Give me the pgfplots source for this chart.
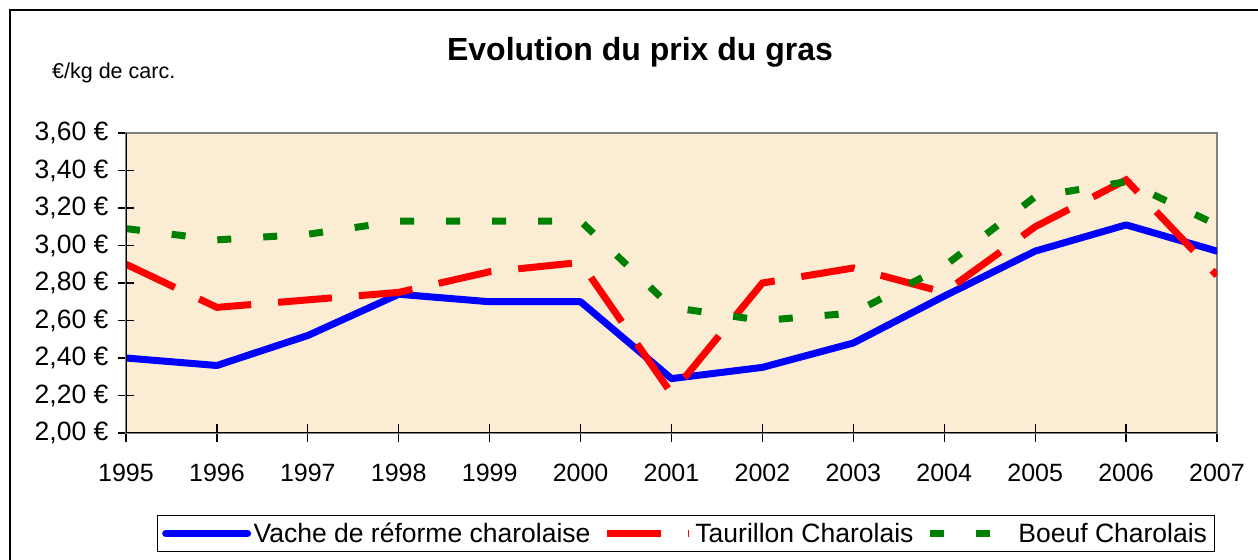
\documentclass[border=0pt]{standalone}
\usepackage{fontspec}
\setmainfont{Liberation Sans}
\usepackage{pgfplots}
\pgfplotsset{compat=1.18}
\definecolor{bgbeige}{RGB}{251,237,212}
\definecolor{axgray}{RGB}{128,128,128}
\definecolor{xlgreen}{RGB}{0,128,0}
\begin{document}
\begin{tikzpicture}
\path[use as bounding box] (0bp,0bp) rectangle (1258bp,560bp);
\draw[line width=1.5bp] (10bp,0bp) -- (10bp,550bp) -- (1258bp,550bp);
\node[font=\fontsize{32bp}{36bp}\selectfont\bfseries] at (640bp,508bp) {Evolution du prix du gras};
\node[font=\fontsize{21.5bp}{24bp}\selectfont, anchor=west, inner sep=0pt] at (52bp,487bp) {€/kg de carc.};
\begin{axis}[
  at={(126bp,127bp)}, anchor=south west, scale only axis,
  width=1091bp, height=300bp,
  xmin=1995, xmax=2007, ymin=2, ymax=3.6,
  xtick={1995,1996,1997,1998,1999,2000,2001,2002,2003,2004,2005,2006,2007},
  xticklabels={1995,1996,1997,1998,1999,2000,2001,2002,2003,2004,2005,2006,2007},
  ytick={2,2.2,2.4,2.6,2.8,3,3.2,3.4,3.6},
  yticklabels={{2,00 €},{2,20 €},{2,40 €},{2,60 €},{2,80 €},{3,00 €},{3,20 €},{3,40 €},{3,60 €}},
  xtick pos=bottom, ytick pos=left,
  tick align=center, major tick length=17bp,
  tick style={black, line width=1.2bp},
  axis line style={axgray, line width=2bp},
  axis background/.style={fill=bgbeige},
  xticklabel style={font=\fontsize{25bp}{30bp}\selectfont, inner sep=0pt, anchor=north, yshift=-22bp},
  yticklabel style={font=\fontsize{26.5bp}{30bp}\selectfont, inner sep=0pt, anchor=east, xshift=-9bp},
  no markers,
  legend columns=3,
  legend style={at={(0.028,-0.273)}, anchor=north west, draw=black, line width=1.2bp,
    inner xsep=5bp, inner ysep=5bp, font=\fontsize{26.5bp}{30bp}\selectfont,
    /tikz/every even column/.append style={column sep=11bp},
    nodes={inner sep=2.5bp}},
  legend image code/.code={\draw[#1] (0bp,0bp) -- (82bp,0bp);},
]
\addplot[blue, line width=7bp, line join=round, line cap=round] coordinates {
(1995,2.40) (1996,2.36) (1997,2.52) (1998,2.74) (1999,2.70) (2000,2.70) (2001,2.29)
(2002,2.35) (2003,2.48) (2004,2.73) (2005,2.97) (2006,3.11) (2007,2.97)};
\addlegendentry{Vache de réforme charolaise}
\addplot[red, line width=7bp, dash pattern=on 54bp off 27bp] coordinates {
(1995,2.90) (1996,2.67) (1997,2.71) (1998,2.75) (1999,2.86) (2000,2.91) (2001,2.21)
(2002,2.80) (2003,2.88) (2004,2.75) (2005,3.10) (2006,3.35) (2007,2.84)};
\addlegendentry{Taurillon Charolais}
\addplot[xlgreen, line width=7bp, dash pattern=on 14bp off 32bp] coordinates {
(1995,3.09) (1996,3.03) (1997,3.06) (1998,3.13) (1999,3.13) (2000,3.13) (2001,2.67)
(2002,2.60) (2003,2.64) (2004,2.89) (2005,3.26) (2006,3.34) (2007,3.11)};
\addlegendentry{Boeuf Charolais}
\draw[black, line width=1.5bp] (rel axis cs:0,1) -- (rel axis cs:0,0) -- (rel axis cs:1,0);
\end{axis}
\end{tikzpicture}
\end{document}
